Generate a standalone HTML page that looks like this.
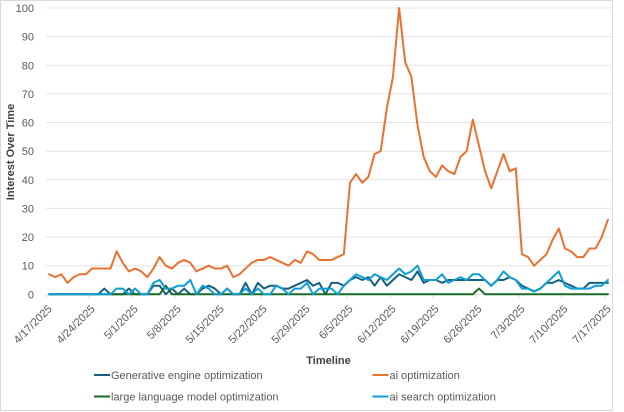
<!DOCTYPE html>
<html>
<head>
<meta charset="utf-8">
<style>
  html,body{margin:0;padding:0;background:#fff;}
  svg{display:block;}
  text{font-family:"Liberation Sans",Arial,sans-serif;}
</style>
</head>
<body>
<svg width="624" height="412" viewBox="0 0 624 412" xmlns="http://www.w3.org/2000/svg">
  <rect x="0" y="0" width="624" height="412" fill="#fff"/>
  <rect x="0.5" y="0.5" width="612" height="410" fill="#fff" stroke="#d9d9d9" stroke-width="1"/>

  <!-- gridlines -->
  <g stroke="#e3e3e3" stroke-width="1">
    <line x1="46" y1="8.0" x2="611" y2="8.0"/>
    <line x1="46" y1="36.6" x2="611" y2="36.6"/>
    <line x1="46" y1="65.3" x2="611" y2="65.3"/>
    <line x1="46" y1="93.9" x2="611" y2="93.9"/>
    <line x1="46" y1="122.5" x2="611" y2="122.5"/>
    <line x1="46" y1="151.2" x2="611" y2="151.2"/>
    <line x1="46" y1="179.8" x2="611" y2="179.8"/>
    <line x1="46" y1="208.4" x2="611" y2="208.4"/>
    <line x1="46" y1="237.0" x2="611" y2="237.0"/>
    <line x1="46" y1="265.7" x2="611" y2="265.7"/>
  </g>
  <!-- x axis + ticks -->
  <g stroke="#d9d9d9" stroke-width="1">
    <line x1="46" y1="294.3" x2="611" y2="294.3"/>
    <line x1="46" y1="294.3" x2="46" y2="298.5"/>
    <line x1="89" y1="294.3" x2="89" y2="298.5"/>
    <line x1="132" y1="294.3" x2="132" y2="298.5"/>
    <line x1="175" y1="294.3" x2="175" y2="298.5"/>
    <line x1="218" y1="294.3" x2="218" y2="298.5"/>
    <line x1="261" y1="294.3" x2="261" y2="298.5"/>
    <line x1="304" y1="294.3" x2="304" y2="298.5"/>
    <line x1="347" y1="294.3" x2="347" y2="298.5"/>
    <line x1="390" y1="294.3" x2="390" y2="298.5"/>
    <line x1="433" y1="294.3" x2="433" y2="298.5"/>
    <line x1="476" y1="294.3" x2="476" y2="298.5"/>
    <line x1="519" y1="294.3" x2="519" y2="298.5"/>
    <line x1="562" y1="294.3" x2="562" y2="298.5"/>
    <line x1="605" y1="294.3" x2="605" y2="298.5"/>
  </g>

  <!-- y tick labels -->
  <g font-size="11" fill="#595959" text-anchor="end">
    <text x="34" y="12">100</text>
    <text x="34" y="40.6">90</text>
    <text x="34" y="69.3">80</text>
    <text x="34" y="97.9">70</text>
    <text x="34" y="126.5">60</text>
    <text x="34" y="155.2">50</text>
    <text x="34" y="183.8">40</text>
    <text x="34" y="212.4">30</text>
    <text x="34" y="241">20</text>
    <text x="34" y="269.7">10</text>
    <text x="34" y="298.3">0</text>
  </g>

  <!-- x tick labels -->
  <g font-size="11" fill="#595959" text-anchor="end">
    <text transform="translate(52.6,309.5) rotate(-45)">4/17/2025</text>
    <text transform="translate(95.6,309.5) rotate(-45)">4/24/2025</text>
    <text transform="translate(138.6,309.5) rotate(-45)">5/1/2025</text>
    <text transform="translate(181.6,309.5) rotate(-45)">5/8/2025</text>
    <text transform="translate(224.6,309.5) rotate(-45)">5/15/2025</text>
    <text transform="translate(267.5,309.5) rotate(-45)">5/22/2025</text>
    <text transform="translate(310.5,309.5) rotate(-45)">5/29/2025</text>
    <text transform="translate(353.5,309.5) rotate(-45)">6/5/2025</text>
    <text transform="translate(396.5,309.5) rotate(-45)">6/12/2025</text>
    <text transform="translate(439.5,309.5) rotate(-45)">6/19/2025</text>
    <text transform="translate(482.5,309.5) rotate(-45)">6/26/2025</text>
    <text transform="translate(525.5,309.5) rotate(-45)">7/3/2025</text>
    <text transform="translate(568.5,309.5) rotate(-45)">7/10/2025</text>
    <text transform="translate(611.5,309.5) rotate(-45)">7/17/2025</text>
  </g>

  <!-- axis titles -->
  <text x="328.5" y="364" font-size="11" font-weight="bold" fill="#404040" text-anchor="middle">Timeline</text>
  <text transform="translate(14,152) rotate(-90)" font-size="11" font-weight="bold" fill="#404040" text-anchor="middle">Interest Over Time</text>

  <!-- series -->
  <g transform="translate(49.07,294.3) scale(6.141,-2.863)" fill="none" stroke-width="2" stroke-linejoin="round" stroke-linecap="round">
    <polyline vector-effect="non-scaling-stroke" stroke="#156082" points="0,0 1,0 2,0 3,0 4,0 5,0 6,0 7,0 8,0 9,2 10,0 11,0 12,0 13,2 14,0 15,0 16,0 17,3 18,3 19,0 20,2 21,0 22,2 23,0 24,0 25,2 26,3 27,2 28,0 29,2 30,0 31,0 32,4 33,0 34,4 35,2 36,3 37,3 38,2 39,2 40,3 41,4 42,5 43,3 44,4 45,0 46,4 47,4 48,3 49,5 50,6 51,5 52,6 53,3 54,6 55,3 56,5 57,7 58,6 59,5 60,8 61,4 62,5 63,5 64,4 65,5 66,5 67,5 68,5 69,5 70,5 71,5 72,3 73,5 74,5 75,6 76,5 77,3 78,2 79,1 80,2 81,4 82,4 83,5 84,4 85,3 86,2 87,2 88,4 89,4 90,4 91,4"/>
    <polyline vector-effect="non-scaling-stroke" stroke="#E97132" points="0,7 1,6 2,7 3,4 4,6 5,7 6,7 7,9 8,9 9,9 10,9 11,15 12,11 13,8 14,9 15,8 16,6 17,9 18,13 19,10 20,9 21,11 22,12 23,11 24,8 25,9 26,10 27,9 28,9 29,10 30,6 31,7 32,9 33,11 34,12 35,12 36,13 37,12 38,11 39,10 40,12 41,11 42,15 43,14 44,12 45,12 46,12 47,13 48,14 49,39 50,42 51,39 52,41 53,49 54,50 55,65 56,76 57,100 58,81 59,76 60,59 61,48 62,43 63,41 64,45 65,43 66,42 67,48 68,50 69,61 70,52 71,43 72,37 73,43 74,49 75,43 76,44 77,14 78,13 79,10 80,12 81,14 82,19 83,23 84,16 85,15 86,13 87,13 88,16 89,16 90,20 91,26"/>
    <polyline vector-effect="non-scaling-stroke" stroke="#196B24" points="0,0 18,0 19,3 20,0 69,0 70,2 71,0 91,0"/>
    <polyline vector-effect="non-scaling-stroke" stroke="#0F9ED5" points="0,0 1,0 2,0 3,0 4,0 5,0 6,0 7,0 8,0 9,0 10,0 11,2 12,2 13,0 14,2 15,0 16,0 17,4 18,5 19,2 20,2 21,3 22,3 23,5 24,0 25,3 26,2 27,0 28,0 29,2 30,0 31,0 32,2 33,0 34,2 35,0 36,0 37,3 38,2 39,0 40,2 41,2 42,4 43,0 44,2 45,2 46,2 47,0 48,3 49,5 50,7 51,6 52,5 53,7 54,6 55,5 56,7 57,9 58,7 59,8 60,10 61,5 62,5 63,5 64,7 65,4 66,5 67,6 68,5 69,7 70,7 71,5 72,3 73,5 74,8 75,6 76,5 77,2 78,2 79,1 80,2 81,4 82,6 83,8 84,3 85,2 86,2 87,2 88,2 89,3 90,3 91,5"/>
  </g>

  <!-- legend -->
  <g stroke-width="2">
    <line x1="94" y1="375" x2="110" y2="375" stroke="#156082"/>
    <line x1="94" y1="396.5" x2="110" y2="396.5" stroke="#196B24"/>
    <line x1="372.5" y1="375" x2="388.5" y2="375" stroke="#E97132"/>
    <line x1="372.5" y1="396.5" x2="388.5" y2="396.5" stroke="#0F9ED5"/>
  </g>
  <g font-size="11" fill="#595959">
    <text x="111" y="379">Generative engine optimization</text>
    <text x="111" y="400.5">large language model optimization</text>
    <text x="389.5" y="379">ai optimization</text>
    <text x="389.5" y="400.5">ai search optimization</text>
  </g>
</svg>
</body>
</html>
